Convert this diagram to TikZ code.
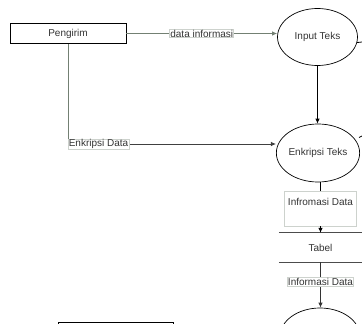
\documentclass[tikz,border=0pt]{standalone}
\usepackage{fontspec}
\setmainfont{Liberation Sans}
\usetikzlibrary{arrows.meta,shapes.geometric}
\definecolor{linegray}{RGB}{115,128,115}
\definecolor{boxgray}{RGB}{205,210,205}
\begin{document}
\begin{tikzpicture}[x=1pt,y=-1pt,
  every node/.style={font=\fontsize{10}{12}\selectfont, text=black!80},
  proc/.style={draw, ellipse, minimum width=80pt, minimum height=57pt, inner sep=0pt},
  ent/.style={draw, minimum width=116pt, minimum height=20pt, inner sep=0pt},
  lblbox/.style={fill=white, draw=boxgray, inner sep=0.6pt},
  arr/.style={-{Latex[length=5pt,width=4.5pt]}},
  conn/.style={line width=0.8pt},
]
\useasboundingbox (0,0) rectangle (362,324);
\clip (0,0) rectangle (362,324);

\node[ent, line width=0.8pt] (peng) at (68,33.5) {Pengirim};
\node[proc, line width=0.7pt] (input) at (317.5,37) {Input Teks};
\node[proc, line width=0.7pt, minimum width=83pt, minimum height=58pt] (enk) at (318,153) {Enkripsi Teks};
\node[draw=boxgray, line width=0.6pt, minimum width=68pt, minimum height=35pt,
      inner ysep=7pt, text height=7pt, text depth=14pt] (ibox) at (320.5,208.5) {Infromasi Data};
\node[minimum width=83pt, minimum height=29pt, inner sep=0pt] (tabel) at (320.5,247.5) {Tabel};
\node[proc, line width=0.7pt] (bot) at (320,336.5) {};
\node[draw, line width=0.7pt, minimum width=115pt, minimum height=22pt, inner sep=0pt] (ent2) at (115.5,333) {};

\coordinate (inR) at (362,42);
\coordinate (enR) at (362,136);
\coordinate (corner) at (68,144);

% tabel lines
\draw[line width=0.8pt, black!70] (tabel.north west) -- (tabel.north east);
\draw[line width=0.8pt, black!70] (tabel.south west) -- (tabel.south east);

% connectors
\draw[conn, linegray, arr] (peng.east) -- (input.west |- peng.east)
  node[lblbox, midway] (l1) {data informasi};
\draw[conn, black] (input.-8) -- (inR);
\draw[conn, black, arr] (input.south) -- (input.south |- enk.north);
\draw[conn, linegray] (peng.south) -- (corner);
\draw[conn, black!75, arr] (corner) -- (enk.west |- corner);
\node[lblbox, anchor=west] (l2) at (corner) {Enkripsi Data};
\draw[conn, black] (enR) -- ++(-3,1.5) coordinate (enR2);
\draw[conn, black] (ibox.north |- enk.south) -- (ibox.north);
\draw[conn, black, arr] (ibox.south) -- (tabel.north);
\draw[conn, black!80, arr] (tabel.south) -- (tabel.south |- bot.north)
  node[lblbox, pos=0.43] (l3) {Informasi Data};
\end{tikzpicture}
\end{document}
